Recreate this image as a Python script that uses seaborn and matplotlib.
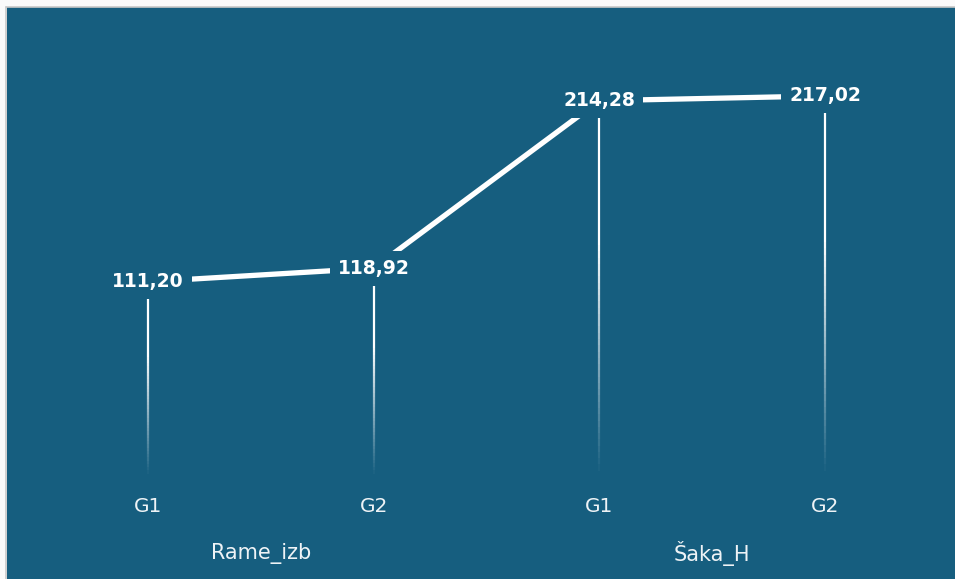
import numpy as np
import pandas as pd
import matplotlib
matplotlib.use("Agg")
import matplotlib.pyplot as plt
import seaborn as sns
from matplotlib.collections import LineCollection

groups = ["Rame_izb", "Rame_izb", "Šaka_H", "Šaka_H"]
sub_labels = ["G1", "G2", "G1", "G2"]
values = [111.20, 118.92, 214.28, 217.02]
value_labels = ["111,20", "118,92", "214,28", "217,02"]

BG = "#165E7F"
sns.set_theme(style="white")
plt.rcParams["font.family"] = ["DejaVu Sans"]

df = pd.DataFrame({"pos": np.arange(len(values)), "value": values,
                   "group": groups, "sub": sub_labels})

fig = plt.figure(figsize=(9.55, 5.79), dpi=100, facecolor="#fafafa")
W, H = 955, 579
ax = fig.add_axes([7 / W, 0, 1 - 7 / W, 1 - 7 / H])
ax.set_facecolor(BG)
for s in ax.spines.values():
    s.set_visible(False)
fig.add_artist(plt.Line2D([6 / W, 6 / W], [0, 1 - 6.5 / H], color="#c8c8c8", lw=1.2))
fig.add_artist(plt.Line2D([6 / W, 1], [1 - 6.5 / H, 1 - 6.5 / H], color="#c8c8c8", lw=1.2))

# connecting line
sns.lineplot(data=df, x="pos", y="value", ax=ax, color="white", linewidth=3.8,
             solid_capstyle="butt", zorder=2, legend=False)

# gradient vertical lines from 0 to value
n = 60
for x, v in zip(df["pos"], df["value"]):
    ys = np.linspace(0, v, n + 1)
    segs = [[(x, ys[i]), (x, ys[i + 1])] for i in range(n)]
    alphas = np.clip(np.linspace(0.0, 1.0, n) * 1.6, 0, 1)
    cols = [(1, 1, 1, a) for a in alphas]
    lc = LineCollection(segs, colors=cols, linewidths=1.6, zorder=1)
    ax.add_collection(lc)

# value labels masking the lines
for x, v, lab in zip(df["pos"], df["value"], value_labels):
    ax.text(x, v, lab, ha="center", va="center", color="white", fontsize=13.5,
            fontweight="bold", zorder=5,
            bbox=dict(boxstyle="square,pad=0.42", facecolor=BG, edgecolor="none"))

ax.set_xlim(-141 / 225.67, 3 + 130 / 225.67)
ax.set_ylim(-(579 - 477) / 1.756, (477 - 7) / 1.756)
ax.set_xticks([])
ax.set_yticks([])
ax.set_xlabel("")
ax.set_ylabel("")

# sub labels and group labels
for x, s in zip(df["pos"], sub_labels):
    ax.text(x, -17.0, s, ha="center", va="center", color="#eef3f6", fontsize=14.5)
grp_pos = df.groupby("group", sort=False)["pos"].mean()
for g, x in grp_pos.items():
    ax.text(x, -43.5, g, ha="center", va="center", color="#eef3f6", fontsize=15)

fig.savefig("out.png", dpi=100, facecolor=fig.get_facecolor())
